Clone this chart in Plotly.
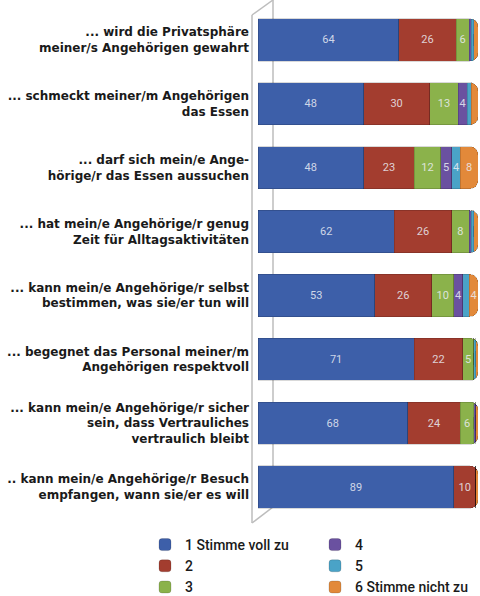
import plotly.graph_objects as go

categories = [
    "... wird die Privatsphäre<br>meiner/s Angehörigen gewahrt",
    "... schmeckt meiner/m Angehörigen<br>das Essen",
    "... darf sich mein/e Ange-<br>hörige/r das Essen aussuchen",
    "... hat mein/e Angehörige/r genug<br>Zeit für Alltagsaktivitäten",
    "... kann mein/e Angehörige/r selbst<br>bestimmen, was sie/er tun will",
    "... begegnet das Personal meiner/m<br>Angehörigen respektvoll",
    "... kann mein/e Angehörige/r sicher<br>sein, dass Vertrauliches<br>vertraulich bleibt",
    ".. kann mein/e Angehörige/r Besuch<br>empfangen, wann sie/er es will",
]

s1 = [64, 48, 48, 62, 53, 71, 68, 89]
s2 = [26, 30, 23, 26, 26, 22, 24, 10]
s3 = [6, 13, 12, 8, 10, 5, 6, 0]
s4 = [1, 4, 5, 1, 4, 0, 1, 0]
s5 = [1, 2, 4, 1, 3, 1, 0, 0]
s6 = [2, 3, 8, 2, 4, 1, 1, 1]

series_names = ["1 Stimme voll zu", "2", "3", "4", "5", "6 Stimme nicht zu"]
series_values = [s1, s2, s3, s4, s5, s6]
colors = ["#3d5fa9", "#a33d2f", "#8bb24b", "#6a51a0", "#4aa3c7", "#e2893a"]
legend_ranks = [1, 3, 5, 2, 4, 6]

LABEL_FONT = "'DejaVu Sans', sans-serif"
FONT = "Roboto, 'Liberation Sans', sans-serif"

fig = go.Figure()
for name, vals, col, rank in zip(series_names, series_values, colors, legend_ranks):
    fig.add_trace(go.Bar(
        y=categories, x=vals, name=name, orientation="h",
        marker=dict(color=col, line=dict(color="rgba(0,0,0,0.25)", width=0.6)),
        text=[str(v) if v >= 4 else "" for v in vals],
        textposition="inside", insidetextanchor="middle",
        textfont=dict(family=FONT, size=11, color="rgba(235,238,245,0.85)"),
        legendrank=rank, hoverinfo="skip",
    ))

W, H = 480, 596
def px(x): return x / W
def py(y): return 1 - y / H

wall = dict(type="line", xref="paper", yref="paper",
            line=dict(color="#bdbdbd", width=1.5), layer="below")
shapes = [
    dict(wall, x0=px(252), y0=py(15), x1=px(252), y1=py(523)),
    dict(wall, x0=px(273), y0=py(0), x1=px(273), y1=py(507)),
    dict(wall, x0=px(252), y0=py(15), x1=px(273), y1=py(0)),
    dict(wall, x0=px(252), y0=py(523), x1=px(273), y1=py(507)),
]

fig.update_layout(
    width=W, height=H,
    margin=dict(l=0, r=0, t=0, b=0, autoexpand=False),
    paper_bgcolor="white", plot_bgcolor="rgba(0,0,0,0)",
    barmode="stack", bargap=0.34, barcornerradius=8,
    uniformtext=dict(minsize=11, mode="show"),
    shapes=shapes,
    xaxis=dict(domain=[px(258), px(478)], range=[0, 100], visible=False,
               fixedrange=True, automargin=False),
    yaxis=dict(domain=[py(519), py(8)], autorange="reversed", showgrid=False,
               showline=False, zeroline=False, ticks="", ticklabelstandoff=8,
               automargin=False, fixedrange=True,
               tickfont=dict(family=LABEL_FONT, size=12, color="#1a1a1a", weight="bold")),
    showlegend=True,
    legend=dict(orientation="h", x=px(145), xanchor="left", y=py(529), yanchor="top",
                entrywidth=125, entrywidthmode="pixels", traceorder="normal",
                font=dict(family=FONT, size=14, color="#1a1a1a", weight=500),
                bgcolor="rgba(0,0,0,0)", itemclick=False, itemdoubleclick=False),
)

fig.write_html("out.html", config={"displayModeBar": False},
               post_script="document.body.style.margin='0';")
